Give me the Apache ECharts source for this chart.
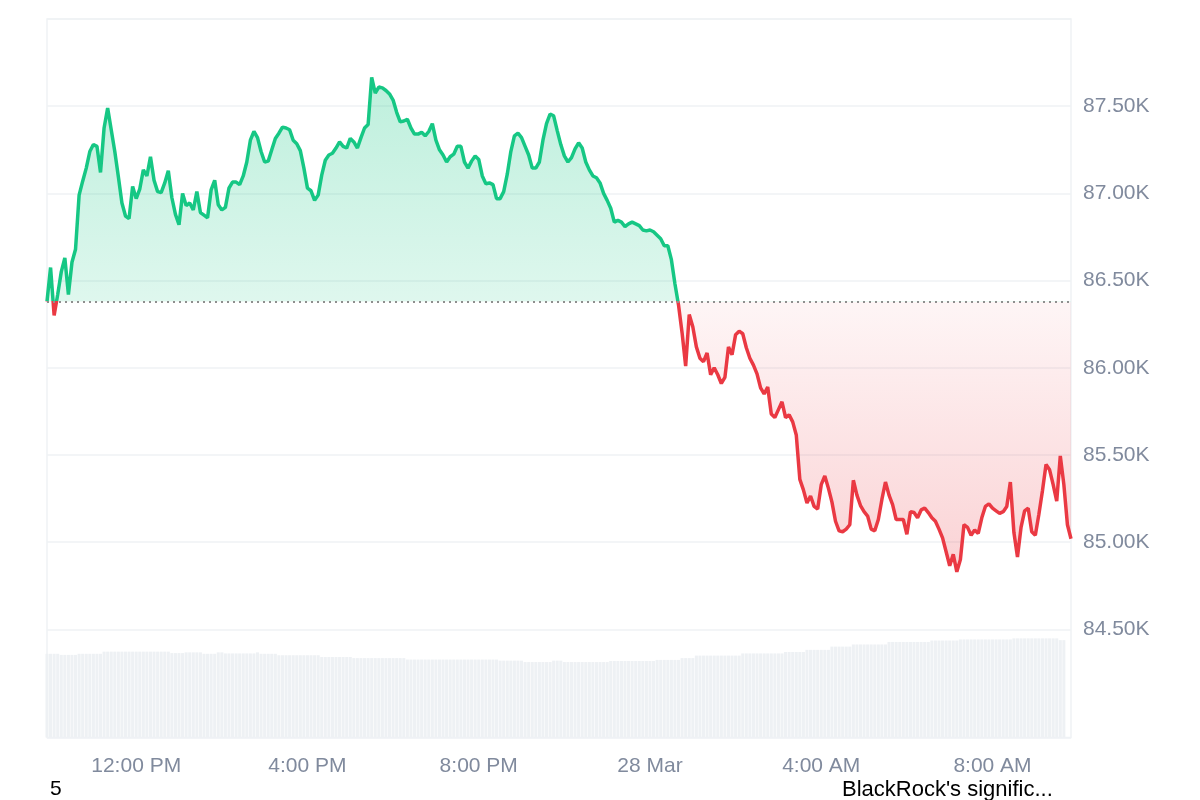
<!DOCTYPE html>
<html>
<head>
<meta charset="utf-8">
<title>BTC 24h</title>
<script src="https://cdn.jsdelivr.net/npm/echarts@6/dist/echarts.min.js"></script>
<style>
  html, body { margin: 0; padding: 0; background: #fff; }
  #chart { width: 1200px; height: 800px; }
</style>
</head>
<body>
<div id="chart"></div>
<script>
// price every 5 min, 27 Mar 09:55 -> 28 Mar 09:50 (one row = one hour)
const prices = [
  86380, 86575, 86300, 86420, 86550, 86630, 86420, 86605, 86680, 86990, 87070, 87145,
  87240, 87280, 87270, 87120, 87375, 87490, 87365, 87240, 87095, 86945, 86870, 86855,
  87040, 86970, 87025, 87135, 87100, 87210, 87075, 87010, 87005, 87060, 87130, 86975,
  86880, 86820, 87000, 86930, 86945, 86905, 87010, 86890, 86875, 86860, 87020, 87075,
  86935, 86905, 86920, 87030, 87065, 87065, 87050, 87100, 87180, 87305, 87355, 87320,
  87240, 87180, 87185, 87250, 87315, 87345, 87380, 87375, 87365, 87305, 87285, 87245,
  87145, 87030, 87015, 86960, 86990, 87105, 87190, 87220, 87230, 87260, 87295, 87270,
  87260, 87315, 87295, 87260, 87320, 87375, 87395, 87665, 87575, 87610, 87605, 87590,
  87570, 87535, 87465, 87410, 87415, 87425, 87375, 87340, 87340, 87350, 87330, 87355,
  87400, 87305, 87250, 87220, 87180, 87210, 87225, 87270, 87270, 87180, 87145, 87185,
  87215, 87195, 87100, 87055, 87060, 87050, 86970, 86970, 87010, 87110, 87240, 87330,
  87345, 87320, 87270, 87220, 87145, 87145, 87180, 87305, 87400, 87455, 87445, 87360,
  87280, 87215, 87180, 87205, 87255, 87290, 87260, 87180, 87135, 87100, 87090, 87060,
  87000, 86960, 86915, 86835, 86845, 86835, 86810, 86825, 86835, 86825, 86815, 86790,
  86785, 86790, 86780, 86760, 86740, 86700, 86700, 86620, 86480, 86360, 86200, 86010,
  86305, 86235, 86120, 86055, 86035, 86085, 85960, 86000, 85960, 85910, 85945, 86120,
  86075, 86190, 86210, 86195, 86115, 86055, 86015, 85965, 85885, 85850, 85890, 85735,
  85715, 85760, 85805, 85715, 85730, 85690, 85615, 85360, 85300, 85225, 85265, 85205,
  85190, 85330, 85380, 85310, 85230, 85120, 85065, 85060, 85075, 85100, 85355, 85270,
  85210, 85175, 85150, 85075, 85065, 85130, 85245, 85345, 85270, 85215, 85130, 85130,
  85130, 85045, 85175, 85170, 85140, 85185, 85195, 85170, 85140, 85120, 85075, 85025,
  84945, 84865, 84930, 84830, 84900, 85100, 85085, 85040, 85070, 85050, 85140, 85205,
  85220, 85195, 85180, 85165, 85175, 85205, 85345, 85055, 84915, 85085, 85180, 85195,
  85060, 85040, 85160, 85295, 85445, 85415, 85330, 85235, 85495, 85330, 85100, 85020
];
// 24h volume (B), same time steps
const volumes = [
  23.3, 23.3, 23.3, 23.3, 23.0, 23.0, 23.0, 23.0, 23.0, 23.3, 23.3, 23.3,
  23.3, 23.3, 23.3, 23.3, 23.9, 23.9, 23.9, 23.9, 23.9, 23.9, 23.9, 23.9,
  23.9, 23.9, 23.9, 23.9, 23.9, 23.9, 23.9, 23.9, 23.9, 23.9, 23.9, 23.5,
  23.5, 23.5, 23.5, 23.7, 23.7, 23.7, 23.7, 23.7, 23.3, 23.3, 23.3, 23.3,
  23.7, 23.7, 23.4, 23.4, 23.4, 23.4, 23.4, 23.4, 23.4, 23.4, 23.4, 23.7,
  23.3, 23.3, 23.3, 23.3, 23.3, 22.9, 22.9, 22.9, 22.9, 22.9, 22.9, 22.9,
  22.9, 22.9, 22.9, 22.9, 22.9, 22.4, 22.4, 22.4, 22.4, 22.4, 22.4, 22.4,
  22.4, 22.4, 22.1, 22.1, 22.1, 22.1, 22.1, 22.1, 22.1, 22.1, 22.1, 22.1,
  22.1, 22.1, 22.1, 22.1, 22.1, 21.7, 21.7, 21.7, 21.7, 21.7, 21.7, 21.7,
  21.7, 21.7, 21.7, 21.7, 21.7, 21.7, 21.7, 21.7, 21.7, 21.7, 21.7, 21.7,
  21.7, 21.7, 21.7, 21.7, 21.7, 21.7, 21.7, 21.4, 21.4, 21.4, 21.4, 21.4,
  21.4, 21.4, 21.0, 21.0, 21.0, 21.0, 21.0, 21.0, 21.0, 21.0, 21.4, 21.4,
  21.4, 21.0, 21.0, 21.0, 21.0, 21.0, 21.0, 21.0, 21.0, 21.0, 21.0, 21.0,
  21.0, 21.0, 21.3, 21.3, 21.3, 21.3, 21.3, 21.3, 21.3, 21.3, 21.3, 21.3,
  21.3, 21.3, 21.3, 21.6, 21.6, 21.6, 21.6, 21.6, 21.6, 21.6, 22.1, 22.1,
  22.1, 22.1, 22.8, 22.8, 22.8, 22.8, 22.8, 22.8, 22.8, 22.8, 22.8, 22.8,
  22.8, 22.8, 22.8, 23.4, 23.4, 23.4, 23.4, 23.4, 23.4, 23.4, 23.4, 23.4,
  23.4, 23.4, 23.4, 23.8, 23.8, 23.8, 23.8, 23.8, 23.8, 24.4, 24.4, 24.4,
  24.4, 24.4, 24.4, 24.4, 25.3, 25.3, 25.3, 25.3, 25.3, 25.3, 25.9, 25.9,
  25.9, 25.9, 25.9, 25.9, 25.9, 25.9, 25.9, 25.9, 26.6, 26.6, 26.6, 26.6,
  26.6, 26.6, 26.6, 26.6, 26.6, 26.6, 26.6, 26.6, 27.0, 27.0, 27.0, 27.0,
  27.0, 27.0, 27.0, 27.0, 27.3, 27.3, 27.3, 27.3, 27.3, 27.3, 27.3, 27.3,
  27.3, 27.3, 27.3, 27.3, 27.3, 27.3, 27.3, 27.6, 27.6, 27.6, 27.6, 27.6,
  27.6, 27.6, 27.6, 27.6, 27.6, 27.6, 27.6, 27.6, 27.1, 27.1
];
const baseline = 86380; // 开盘价, 虚线
const startMinute = 9 * 60 + 55;
const stepMinute = 5;
const dayNames = ['27 Mar', '28 Mar'];
const newsMarks = ['5', "BlackRock's signific..."];

const green = '#16c784';
const red = '#ea3943';
const labelColor = '#808a9d';
const gridColor = '#eff2f5';
const font = 'Arial, "Liberation Sans", sans-serif';

// x 轴类目: 每 5 分钟一个
const minuteOf = (i) => startMinute + i * stepMinute;
const categories = prices.map((p, i) => {
  const m = minuteOf(i);
  const hh = Math.floor(m / 60) % 24;
  const mm = m % 60;
  return dayNames[Math.floor(m / 1440)] + ' ' + String(hh).padStart(2, '0') + ':' + String(mm).padStart(2, '0');
});
function timeLabel(value) {
  const parts = value.split(' ');
  const [hh, mm] = parts[2].split(':').map(Number);
  if (hh === 0 && mm === 0) return parts[0] + ' ' + parts[1];
  const h12 = hh % 12 === 0 ? 12 : hh % 12;
  return h12 + ':' + String(mm).padStart(2, '0') + (hh < 12 ? ' AM' : ' PM');
}

// 渐变切分点: 基线上绿, 下红 (相对于线的包围盒)
const maxP = Math.max(...prices);
const minP = Math.min(...prices);
const cut = (maxP - baseline) / (maxP - minP);

const chart = echarts.init(document.getElementById('chart'));
const option = {
  animation: false,
  backgroundColor: '#fff',
  grid: {
    left: 47, right: 129, top: 19, bottom: 62.5,
    show: true, borderColor: gridColor, borderWidth: 1.5,
    containLabel: false, outerBoundsMode: 'none'
  },
  xAxis: {
    type: 'category',
    data: categories,
    boundaryGap: false,
    axisLine: { show: false },
    axisTick: { show: false },
    splitLine: { show: false },
    axisLabel: {
      interval: (idx) => minuteOf(idx) % 240 === 0,
      formatter: timeLabel,
      color: labelColor,
      fontSize: 21,
      fontFamily: font,
      margin: 18
    }
  },
  yAxis: [
    {
      type: 'value',
      position: 'right',
      min: 83880,
      max: 88000,
      splitNumber: 8,
      minInterval: 500,
      maxInterval: 500,
      axisLine: { show: false },
      axisTick: { show: false },
      // 84000 这条线藏在成交量后面, 不画
      splitLine: {
        lineStyle: {
          color: [gridColor, 'rgba(0,0,0,0)', gridColor, gridColor, gridColor, gridColor, gridColor, gridColor, gridColor, gridColor],
          width: 1.5
        }
      },
      axisLabel: {
        showMinLabel: false,
        showMaxLabel: false,
        color: labelColor,
        fontSize: 21,
        fontFamily: font,
        margin: 12,
        formatter: (v) => (v < 84500 || v > 87500) ? '' : (v / 1000).toFixed(2) + 'K'
      }
    },
    {
      type: 'value',
      min: 0,
      max: 200,
      show: false,
      splitLine: { show: false }
    }
  ],
  series: [
    {
      name: 'Volume',
      type: 'bar',
      yAxisIndex: 1,
      data: volumes,
      barCategoryGap: '15%',
      itemStyle: { color: '#eef1f4' },
      silent: true
    },
    {
      name: 'Price',
      type: 'line',
      data: prices,
      showSymbol: false,
      lineStyle: {
        width: 3.5,
        color: new echarts.graphic.LinearGradient(0, 0, 0, 1, [
          { offset: 0, color: green },
          { offset: cut, color: green },
          { offset: cut, color: red },
          { offset: 1, color: red }
        ])
      },
      areaStyle: {
        origin: baseline,
        color: new echarts.graphic.LinearGradient(0, 0, 0, 1, [
          { offset: 0, color: 'rgba(22,199,132,0.4)' },
          { offset: cut, color: 'rgba(22,199,132,0.2)' },
          { offset: cut, color: 'rgba(234,57,67,0.07)' },
          { offset: 1, color: 'rgba(234,57,67,0.32)' }
        ])
      },
      markLine: {
        silent: true,
        symbol: ['none', 'none'],
        label: { show: false },
        lineStyle: { color: '#8f8f8f', type: [2, 4], width: 2 },
        data: [{ yAxis: baseline }]
      }
    }
  ],
  graphic: [
    { type: 'text', left: 50, top: 779, style: { text: newsMarks[0], fontSize: 21, fontFamily: font, fill: '#000' } },
    { type: 'text', left: 842, top: 779, style: { text: newsMarks[1], fontSize: 22, fontFamily: font, fill: '#000' } }
  ]
};
chart.setOption(option);
</script>
</body>
</html>
